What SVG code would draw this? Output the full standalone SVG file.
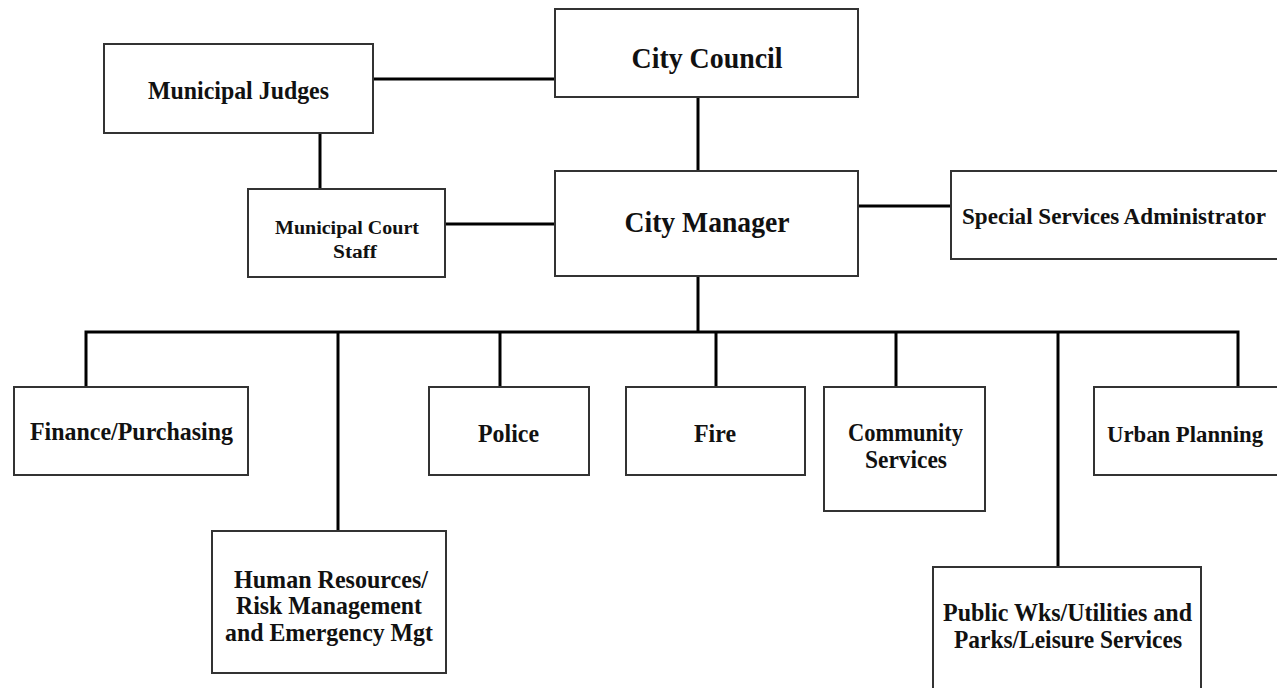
<svg xmlns="http://www.w3.org/2000/svg" width="1277" height="688" viewBox="0 0 1277 688">
<style>
.box{fill:#fff;stroke:#333;stroke-width:2}
.open{fill:#fff;stroke:#333;stroke-width:2}
.ln{fill:none;stroke:#000;stroke-width:3;stroke-linejoin:miter;stroke-linecap:butt}
text{font-family:"Liberation Serif","Times New Roman",serif;font-weight:bold;fill:#111;text-anchor:middle}
.f28{font-size:29px}
.f24{font-size:25px}
.f18{font-size:18.5px}
</style>
<rect width="1277" height="688" fill="#fff"/>
<g id="connectors">
<path class="ln" d="M373,79 H555"/>
<path class="ln" d="M320,133 V189"/>
<path class="ln" d="M445,224 H555"/>
<path class="ln" d="M698,97 V171"/>
<path class="ln" d="M858,206 H951"/>
<path class="ln" d="M698,276 V332"/>
<path class="ln" d="M86,387 V332 H1238 V387"/>
<path class="ln" d="M338,332 V531"/>
<path class="ln" d="M500,332 V387"/>
<path class="ln" d="M716,332 V387"/>
<path class="ln" d="M896,332 V387"/>
<path class="ln" d="M1058,332 V567"/>
</g>
<g id="city-council">
<rect class="box" x="555" y="9" width="303" height="88"/>
<text class="f28" x="707" y="68" textLength="151" lengthAdjust="spacingAndGlyphs">City Council</text>
</g>
<g id="municipal-judges">
<rect class="box" x="104" y="44" width="269" height="89"/>
<text class="f24" x="238.5" y="99" textLength="181" lengthAdjust="spacingAndGlyphs">Municipal Judges</text>
</g>
<g id="city-manager">
<rect class="box" x="555" y="171" width="303" height="105"/>
<text class="f28" x="707" y="232" textLength="165" lengthAdjust="spacingAndGlyphs">City Manager</text>
</g>
<g id="municipal-court-staff">
<rect class="box" x="248" y="189" width="197" height="88"/>
<text class="f18" x="347" y="234" textLength="144" lengthAdjust="spacingAndGlyphs">Municipal Court</text>
<text class="f18" x="355" y="258" textLength="44" lengthAdjust="spacingAndGlyphs">Staff</text>
</g>
<g id="special-services">
<path class="open" d="M1277,171 H951 V259 H1277"/>
<text x="962" y="224" style="text-anchor:start;font-size:22.5px" textLength="304" lengthAdjust="spacingAndGlyphs">Special Services Administrator</text>
</g>
<g id="urban-planning">
<path class="open" d="M1277,387 H1094 V475 H1277"/>
<text x="1185" y="442" style="font-size:23px" textLength="156" lengthAdjust="spacingAndGlyphs">Urban Planning</text>
</g>
<g id="finance">
<rect class="box" x="14" y="387" width="234" height="88"/>
<text class="f24" x="131.5" y="440" textLength="203" lengthAdjust="spacingAndGlyphs">Finance/Purchasing</text>
</g>
<g id="human-resources">
<rect class="box" x="212" y="531" width="234" height="142"/>
<text class="f24" x="331" y="588" textLength="194" lengthAdjust="spacingAndGlyphs">Human Resources/</text>
<text class="f24" x="329" y="614" textLength="186" lengthAdjust="spacingAndGlyphs">Risk Management</text>
<text class="f24" x="329" y="641" textLength="208" lengthAdjust="spacingAndGlyphs">and Emergency Mgt</text>
</g>
<g id="police">
<rect class="box" x="429" y="387" width="160" height="88"/>
<text class="f24" x="508.5" y="442" textLength="61" lengthAdjust="spacingAndGlyphs">Police</text>
</g>
<g id="fire">
<rect class="box" x="626" y="387" width="179" height="88"/>
<text class="f24" x="715" y="442" textLength="42" lengthAdjust="spacingAndGlyphs">Fire</text>
</g>
<g id="community-services">
<rect class="box" x="824" y="387" width="161" height="124"/>
<text class="f24" x="905.5" y="441" textLength="115" lengthAdjust="spacingAndGlyphs">Community</text>
<text class="f24" x="906" y="468" textLength="82" lengthAdjust="spacingAndGlyphs">Services</text>
</g>
<g id="public-works">
<rect class="box" x="933" y="567" width="268" height="130"/>
<text class="f24" x="1067.5" y="621" textLength="249" lengthAdjust="spacingAndGlyphs">Public Wks/Utilities and</text>
<text class="f24" x="1068" y="648" textLength="228" lengthAdjust="spacingAndGlyphs">Parks/Leisure Services</text>
</g>
</svg>
